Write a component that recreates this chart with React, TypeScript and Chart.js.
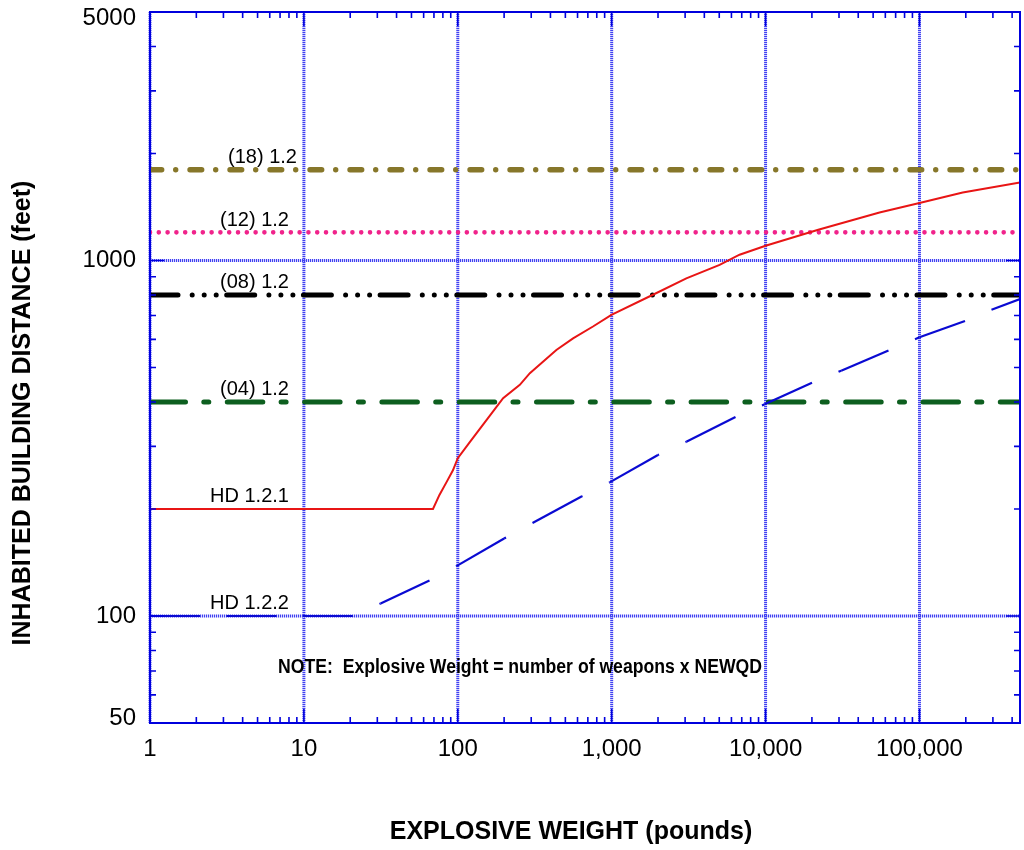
import React, { useEffect, useRef } from "react";
import { Chart, registerables } from "chart.js";

Chart.register(...registerables);

const FONT = '"Liberation Sans", Arial, Helvetica, sans-serif';

// ---- axes ----
const xMin = 1;
const xMax = 450000;
const yMin = 50;
const yMax = 5000;
const xLabelValues = [1, 10, 100, 1000, 10000, 100000];
const yLabelValues = [50, 100, 1000, 5000];
const xDecades = [1, 10, 100, 1000, 10000, 100000];
const yDecades = [10, 100, 1000];
const minorMultipliers = [2, 3, 4, 5, 6, 7, 8, 9];

// ---- HD 1.2.1 curve (pounds -> feet) ----
const hd121Weight = [1, 69, 76, 84.5, 93, 100, 120, 154, 197, 253, 294, 437, 561, 756, 996, 1854, 3055, 5027, 6776, 10000, 22000, 55000, 100000, 191000, 450000];
const hd121Distance = [200, 200, 219, 238, 257, 278, 309, 356, 410, 447, 482, 560, 604, 652, 703, 801, 891, 972, 1038, 1100, 1220, 1365, 1451, 1554, 1658];

// ---- HD 1.2.2 curve (pounds -> feet) ----
const hd122Weight = [1, 20.8, 24, 31.5, 67.5, 98, 200, 301, 641, 970, 1998, 3055, 6451, 9851, 20800, 31000, 65500, 100000, 222000, 292000, 450000];
const hd122Distance = [100, 100, 103, 108.4, 126.6, 138.1, 165.2, 182, 217.2, 237.6, 283.6, 309, 363.6, 394, 456, 489.7, 562.8, 608, 688, 726, 779];

// ---- constant HD 1.2 fragment distances ----
const hazardLabels = ["(04) 1.2", "(08) 1.2", "(12) 1.2", "(18) 1.2"];
const hazardDistances = [400, 800, 1200, 1800];

const curveLabels = ["HD 1.2.1", "HD 1.2.2"];
const curveLabelDistances = [200, 100];

const noteText = "NOTE:  Explosive Weight = number of weapons x NEWQD";
const xTitle = "EXPLOSIVE WEIGHT (pounds)";
const yTitle = "INHABITED BUILDING DISTANCE (feet)";

// ---- styles ----
const AXIS_BLUE = "#0000dd";
const GRID_BLUE = "#4040f2";
const RED = "#e81515";
const BLUE = "#0a0ad2";
const hazardStyles = [
  { color: "#0d5f1f", width: 5, dash: [35.5, 18.3, 5, 18.5], labelNudge: 0 },
  { color: "#000000", width: 5, dash: [28, 14.2, 0.001, 12, 0.001, 12, 0.001, 10.5], labelNudge: 0 },
  { color: "#f0238b", width: 4.6, dash: [0.001, 8.8], labelNudge: 0 },
  { color: "#87772a", width: 5.4, dash: [11.7, 14, 0.001, 14.3], labelNudge: 8 },
];
const BLUE_DASH = 50;
const BLUE_GAP = 26.5;
const LABEL_X = 8;

let plotLeft = 150;

function segFactor(ctx: any) {
  const dx = ctx.p1.x - ctx.p0.x;
  const dy = ctx.p1.y - ctx.p0.y;
  return dx > 0.01 ? Math.hypot(dx, dy) / dx : 1;
}

const decorPlugin = {
  id: "decor",
  afterLayout(chart: any) {
    plotLeft = chart.chartArea.left;
  },
  beforeDatasetsDraw(chart: any) {
    const { ctx, chartArea: a, scales } = chart;
    const xs = scales.x;
    const ys = scales.y;
    ctx.save();
    ctx.strokeStyle = GRID_BLUE;
    ctx.lineWidth = 3;
    ctx.setLineDash([1.2, 0.8]);
    for (const v of xDecades) {
      const px = xs.getPixelForValue(v);
      ctx.beginPath();
      ctx.moveTo(px, a.top);
      ctx.lineTo(px, a.bottom);
      ctx.stroke();
    }
    for (const v of yDecades) {
      if (v <= yMin || v >= yMax) continue;
      const py = ys.getPixelForValue(v);
      ctx.beginPath();
      ctx.moveTo(a.left, py);
      ctx.lineTo(a.right, py);
      ctx.stroke();
    }
    ctx.restore();
  },
  afterDatasetsDraw(chart: any) {
    const { ctx, chartArea: a, scales } = chart;
    const xs = scales.x;
    const ys = scales.y;
    ctx.save();
    // frame
    ctx.setLineDash([]);
    ctx.strokeStyle = AXIS_BLUE;
    ctx.lineWidth = 2;
    ctx.strokeRect(a.left, a.top, a.right - a.left, a.bottom - a.top);
    // ticks
    ctx.lineWidth = 1.6;
    const minorLen = 6;
    const majorLen = 14;
    const drawX = (v: number, len: number) => {
      const px = xs.getPixelForValue(v);
      if (px < a.left - 0.5 || px > a.right + 0.5) return;
      ctx.beginPath();
      ctx.moveTo(px, a.bottom);
      ctx.lineTo(px, a.bottom - len);
      ctx.moveTo(px, a.top);
      ctx.lineTo(px, a.top + len);
      ctx.stroke();
    };
    const drawY = (v: number, len: number) => {
      const py = ys.getPixelForValue(v);
      if (py < a.top - 0.5 || py > a.bottom + 0.5) return;
      ctx.beginPath();
      ctx.moveTo(a.left, py);
      ctx.lineTo(a.left + len, py);
      ctx.moveTo(a.right, py);
      ctx.lineTo(a.right - len, py);
      ctx.stroke();
    };
    for (const d of xDecades) {
      drawX(d, majorLen);
      for (const m of minorMultipliers) if (m * d <= xMax) drawX(m * d, minorLen);
    }
    for (const d of yDecades) {
      if (d >= yMin && d <= yMax) drawY(d, majorLen);
      for (const m of minorMultipliers) {
        const v = m * d;
        if (v > yMin && v < yMax) drawY(v, minorLen);
      }
    }
    // line labels
    ctx.fillStyle = "#000";
    ctx.font = `20px ${FONT}`;
    ctx.textAlign = "right";
    ctx.textBaseline = "middle";
    const lx = xs.getPixelForValue(LABEL_X);
    hazardLabels.forEach((t, i) => {
      ctx.fillText(t, lx + hazardStyles[i].labelNudge, ys.getPixelForValue(hazardDistances[i]) - 12);
    });
    curveLabels.forEach((t, i) => {
      ctx.fillText(t, lx, ys.getPixelForValue(curveLabelDistances[i]) - 12);
    });
    // note (slightly condensed bold face)
    ctx.save();
    ctx.font = `bold 20px ${FONT}`;
    ctx.textAlign = "center";
    const w = ctx.measureText(noteText).width;
    const sx = 484 / w;
    ctx.translate(520, 667);
    ctx.scale(sx, 1);
    ctx.fillText(noteText, 0, 0);
    ctx.restore();
    // axis titles
    ctx.font = `bold 25px ${FONT}`;
    ctx.textAlign = "center";
    ctx.fillText(xTitle, 571, 832);
    ctx.translate(23, 413);
    ctx.rotate(-Math.PI / 2);
    ctx.fillText(yTitle, 0, 0);
    ctx.restore();
  },
};

export default function App() {
  const ref = useRef<HTMLCanvasElement | null>(null);
  useEffect(() => {
    if (!ref.current) return;
    Chart.defaults.font.family = FONT;
    const datasets: any[] = [
      {
        label: curveLabels[0],
        data: hd121Weight.map((w, i) => ({ x: w, y: hd121Distance[i] })),
        borderColor: RED,
        borderWidth: 2,
        showLine: true,
        pointRadius: 0,
        tension: 0,
      },
      {
        label: curveLabels[1],
        data: hd122Weight.map((w, i) => ({ x: w, y: hd122Distance[i] })),
        borderColor: BLUE,
        borderWidth: 2.2,
        showLine: true,
        pointRadius: 0,
        tension: 0,
        segment: {
          borderDash: (c: any) => {
            const f = segFactor(c);
            return [BLUE_DASH * f, BLUE_GAP * f];
          },
          borderDashOffset: (c: any) => {
            const f = segFactor(c);
            const period = BLUE_DASH + BLUE_GAP;
            let ph = (c.p0.x - plotLeft) % period;
            if (ph < 0) ph += period;
            return ph * f;
          },
        },
      },
      ...hazardDistances.map((d, i) => ({
        label: hazardLabels[i],
        data: [
          { x: xMin, y: d },
          { x: xMax, y: d },
        ],
        borderColor: hazardStyles[i].color,
        borderWidth: hazardStyles[i].width,
        borderDash: hazardStyles[i].dash,
        borderCapStyle: "round",
        showLine: true,
        pointRadius: 0,
      })),
    ];
    const edgeLine = (v: number) => (v === yMax ? 0.55 : v === yMin ? 0.42 : 1.2);
    const chart = new Chart(ref.current, {
      type: "scatter",
      data: { datasets },
      options: {
        animation: false,
        responsive: false,
        events: [],
        layout: { padding: { top: 12, right: 4, left: 0, bottom: 0 } },
        plugins: { legend: { display: false }, tooltip: { enabled: false } },
        scales: {
          x: {
            type: "logarithmic",
            min: xMin,
            max: xMax,
            grid: { display: false, drawTicks: false },
            border: { display: false },
            afterBuildTicks: (s: any) => {
              s.ticks = xLabelValues.map((v) => ({ value: v }));
            },
            afterFit: (s: any) => {
              s.height = 127;
              s.paddingLeft = 0;
              s.paddingRight = 0;
            },
            ticks: {
              autoSkip: false,
              maxRotation: 0,
              minRotation: 0,
              padding: 12,
              color: "#000",
              font: { size: 24, family: FONT },
              callback: (v: any) => Number(v).toLocaleString("en-US"),
            },
          },
          y: {
            type: "logarithmic",
            min: yMin,
            max: yMax,
            grid: { display: false, drawTicks: false },
            border: { display: false },
            afterBuildTicks: (s: any) => {
              s.ticks = yLabelValues.map((v) => ({ value: v }));
            },
            afterFit: (s: any) => {
              s.width = 150;
              s.paddingTop = 0;
              s.paddingBottom = 0;
            },
            ticks: {
              autoSkip: false,
              padding: 14,
              color: "#000",
              font: (c: any) => ({
                size: 24,
                family: FONT,
                lineHeight: c && c.tick ? edgeLine(c.tick.value) : 1.2,
              }),
              callback: (v: any) => {
                const n = Number(v);
                if (n === yMax) return ["", String(n)];
                if (n === yMin) return [String(n), ""];
                return String(n);
              },
            },
          },
        },
      },
      plugins: [decorPlugin],
    } as any);
    return () => chart.destroy();
  }, []);
  return (
    <div style={{ position: "absolute", left: 0, top: 0, width: 1024, height: 850, background: "#fff" }}>
      <canvas ref={ref} width={1024} height={850} style={{ display: "block", width: 1024, height: 850 }} />
    </div>
  );
}
